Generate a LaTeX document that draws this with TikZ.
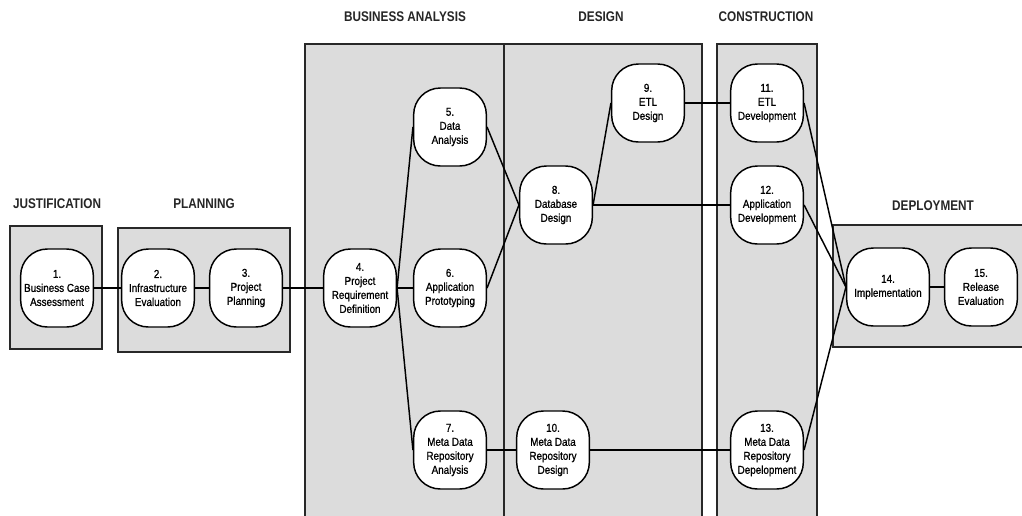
\documentclass[tikz,border=0pt]{standalone}
\usepackage{fontspec}
\setmainfont{Liberation Sans}
\newfontfamily\nodefont[FakeStretch=0.86,FakeBold=0.9]{Liberation Sans}
\newfontfamily\titlefont[FakeStretch=0.84]{Liberation Sans Bold}
\definecolor{panelgray}{RGB}{220,220,220}
\definecolor{edgegray}{RGB}{40,40,40}
\begin{document}
\begin{tikzpicture}[x=0.75pt,y=-0.75pt,
  panel/.style={draw=edgegray,fill=panelgray,line width=1.1pt},
  proc/.style={draw=black,fill=white,line width=1.1pt,rounded corners=20pt,
    minimum width=54.5pt,minimum height=58.5pt,align=center,inner sep=1pt,
    font=\nodefont\fontsize{8.6}{10.5}\selectfont},
  title/.style={font=\titlefont\fontsize{10.5}{12}\selectfont,text=black!85},
  link/.style={line width=1.1pt,draw=black}]
\clip (0,0) rectangle (1022,515);
\fill[white] (0,0) rectangle (1022,515);
% panels
\draw[panel] (10,226) rectangle (102,349);
\draw[panel] (118,228) rectangle (290,352);
\draw[panel] (305,44) rectangle (504,530);
\draw[panel] (504,44) rectangle (702,530);
\draw[panel] (717,44) rectangle (817,530);
\draw[panel] (833,225) rectangle (1030,347);
% titles
\node[title] (tj) at (57,204) {JUSTIFICATION};
\node[title] (tp) at (204,204) {PLANNING};
\node[title] (tb) at (405,17) {BUSINESS ANALYSIS};
\node[title] (td) at (601,17) {DESIGN};
\node[title] (tc) at (766,17) {CONSTRUCTION};
\node[title] (tdep) at (933,206) {DEPLOYMENT};
% process nodes
\node[proc] (n1) at (57,288) {1.\\Business Case\\Assessment};
\node[proc] (n2) at (158,288) {2.\\Infrastructure\\Evaluation};
\node[proc] (n3) at (246,288) {3.\\Project\\Planning};
\node[proc] (n4) at (360,288) {4.\\Project\\Requirement\\Definition};
\node[proc] (n5) at (450,127) {5.\\Data\\Analysis};
\node[proc] (n6) at (450,288) {6.\\Application\\Prototyping};
\node[proc] (n7) at (450,450) {7.\\Meta Data\\Repository\\Analysis};
\node[proc] (n8) at (556,205) {8.\\Database\\Design};
\node[proc] (n9) at (648,103) {9.\\ETL\\Design};
\node[proc] (n10) at (553,450) {10.\\Meta Data\\Repository\\Design};
\node[proc] (n11) at (767,103) {11.\\ETL\\Development};
\node[proc] (n12) at (767,205) {12.\\Application\\Development};
\node[proc] (n13) at (767,450) {13.\\Meta Data\\Repository\\Depelopment};
\node[proc,minimum width=62pt] (n14) at (888,287) {14.\\Implementation};
\node[proc] (n15) at (981,287) {15.\\Release\\Evaluation};
% connectors
\draw[link] (n1.east) -- (n2.west);
\draw[link] (n2.east) -- (n3.west);
\draw[link] (n3.east) -- (n4.west);
\draw[link] (n4.east) -- (n5.west);
\draw[link] (n4.east) -- (n6.west);
\draw[link] (n4.east) -- (n7.west);
\draw[link] (n5.east) -- (n8.west);
\draw[link] (n6.east) -- (n8.west);
\draw[link] (n8.east) -- (n9.west);
\draw[link] (n8.east) -- (n12.west);
\draw[link] (n9.east) -- (n11.west);
\draw[link] (n7.east) -- (n10.west);
\draw[link] (n10.east) -- (n13.west);
\draw[link] (n11.east) -- (n14.west);
\draw[link] (n12.east) -- (n14.west);
\draw[link] (n13.east) -- (n14.west);
\draw[link] (n14.east) -- (n15.west);
\end{tikzpicture}
\end{document}
